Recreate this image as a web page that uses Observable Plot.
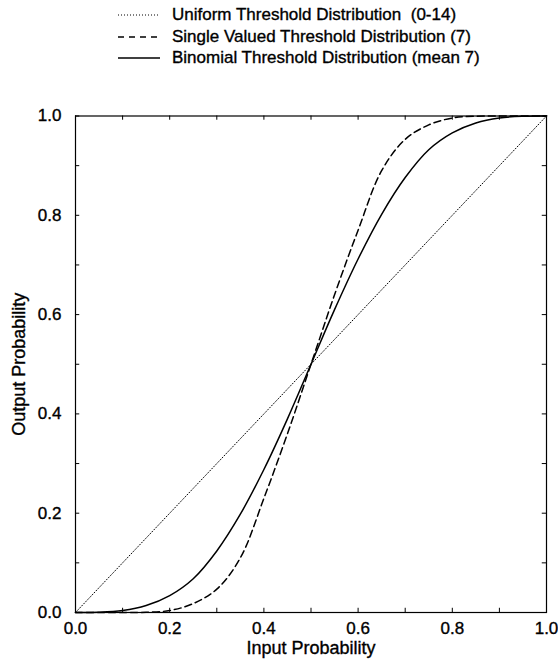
<!DOCTYPE html>
<html>
<head>
<meta charset="utf-8">
<script src="https://cdn.jsdelivr.net/npm/d3@7"></script>
<script src="https://cdn.jsdelivr.net/npm/@observablehq/plot@0.6"></script>
<style>
  html, body { margin: 0; padding: 0; background: #fff; }
  body { width: 558px; height: 661px; overflow: hidden; font-family: "Liberation Sans", Arial, sans-serif; }
  #legend { position: relative; height: 70px; }
  .row { position: absolute; left: 118px; display: flex; align-items: center; font-size: 17px; color: #000; height: 20px; white-space: pre; -webkit-text-stroke: 0.35px #000; }
  .row svg { margin-right: 12px; }
  #chart svg text { stroke: #000; stroke-width: 0.35px; }
</style>
</head>
<body>
<div id="legend"></div>
<div id="chart"></div>
<script>
// Input probability grid
const inputP = [0, 0.05, 0.1, 0.15, 0.2, 0.25, 0.3, 0.35, 0.4, 0.45, 0.5, 0.55, 0.6, 0.65, 0.7, 0.75, 0.8, 0.85, 0.9, 0.95, 1];
// Uniform threshold distribution (0-14): straight diagonal
const uniformP = [0, 0.05, 0.1, 0.15, 0.2, 0.25, 0.3, 0.35, 0.4, 0.45, 0.5, 0.55, 0.6, 0.65, 0.7, 0.75, 0.8, 0.85, 0.9, 0.95, 1];
// Single valued threshold distribution (7)
const singleP = [0, 0, 0, 0.0005, 0.004, 0.018, 0.047, 0.11, 0.23, 0.36, 0.5, 0.64, 0.77, 0.89, 0.953, 0.982, 0.996, 0.9995, 1, 1, 1];
// Binomial threshold distribution (mean 7)
const binomialP = [0, 0.0005, 0.004, 0.014, 0.034, 0.068, 0.124, 0.198, 0.288, 0.39, 0.5, 0.61, 0.712, 0.802, 0.876, 0.932, 0.966, 0.986, 0.996, 0.9995, 1];

const tickValues = [0, 0.2, 0.4, 0.6, 0.8, 1.0];
const minorTicks = [0, 0.1, 0.2, 0.3, 0.4, 0.5, 0.6, 0.7, 0.8, 0.9, 1.0];

const seriesNames = [
  "Uniform Threshold Distribution  (0-14)",
  "Single Valued Threshold Distribution (7)",
  "Binomial Threshold Distribution (mean 7)"
];
const dashes = ["1,2", "7,4", null];
const widths = [1, 1.5, 1.5];

// legend
const legend = document.getElementById("legend");
const rowY = [5, 27, 48];
seriesNames.forEach((name, i) => {
  const row = document.createElement("div");
  row.className = "row";
  row.style.top = rowY[i] + "px";
  row.innerHTML = `<svg width="42" height="10"><line x1="0" x2="42" y1="5" y2="5" stroke="#000" stroke-width="${widths[i]}" ${dashes[i] ? `stroke-dasharray="${i === 1 ? "6,5" : dashes[i]}"` : ""}/></svg><span>${name}</span>`;
  legend.appendChild(row);
});

const mk = (ys) => inputP.map((x, i) => ({x, y: ys[i]}));
const tx = 0.009, ty = 0.0085; // inward tick length in data units

const chart = Plot.plot({
  width: 558,
  height: 591,
  marginTop: 45.5,
  marginBottom: 49,
  marginLeft: 75,
  marginRight: 12,
  style: {fontFamily: "'Liberation Sans', Arial, sans-serif", fontSize: "17px", color: "#000", background: "#fff"},
  x: {domain: [0, 1]},
  y: {domain: [0, 1]},
  marks: [
    Plot.axisX({anchor: "bottom", ticks: tickValues, tickFormat: d3.format(".1f"), tickSize: 0, tickPadding: 9, label: null, fontSize: 17}),
    Plot.axisY({anchor: "left", ticks: tickValues, tickFormat: d3.format(".1f"), tickSize: 0, tickPadding: 14, label: null, fontSize: 17}),
    Plot.axisX({anchor: "bottom", ticks: [], label: "Input Probability", labelArrow: "none", labelAnchor: "center", labelOffset: 41, fontSize: 18}),
    Plot.axisY({anchor: "left", ticks: [], label: "Output Probability", labelArrow: "none", labelAnchor: "center", labelOffset: 63, fontSize: 18}),
    Plot.ruleX(minorTicks, {x: d => d, y1: 0, y2: ty, stroke: "#000"}),
    Plot.ruleX(minorTicks, {x: d => d, y1: 1, y2: 1 - ty, stroke: "#000"}),
    Plot.ruleY(minorTicks, {y: d => d, x1: 0, x2: tx, stroke: "#000"}),
    Plot.ruleY(minorTicks, {y: d => d, x1: 1, x2: 1 - tx, stroke: "#000"}),
    Plot.frame({stroke: "#000", strokeWidth: 1.2}),
    Plot.line(mk(uniformP), {x: "x", y: "y", stroke: "#000", strokeWidth: widths[0], strokeDasharray: dashes[0]}),
    Plot.line(mk(singleP), {x: "x", y: "y", stroke: "#000", strokeWidth: widths[1], strokeDasharray: dashes[1], curve: "catmull-rom"}),
    Plot.line(mk(binomialP), {x: "x", y: "y", stroke: "#000", strokeWidth: widths[2], curve: "catmull-rom"})
  ]
});
document.getElementById("chart").appendChild(chart);
</script>
</body>
</html>
